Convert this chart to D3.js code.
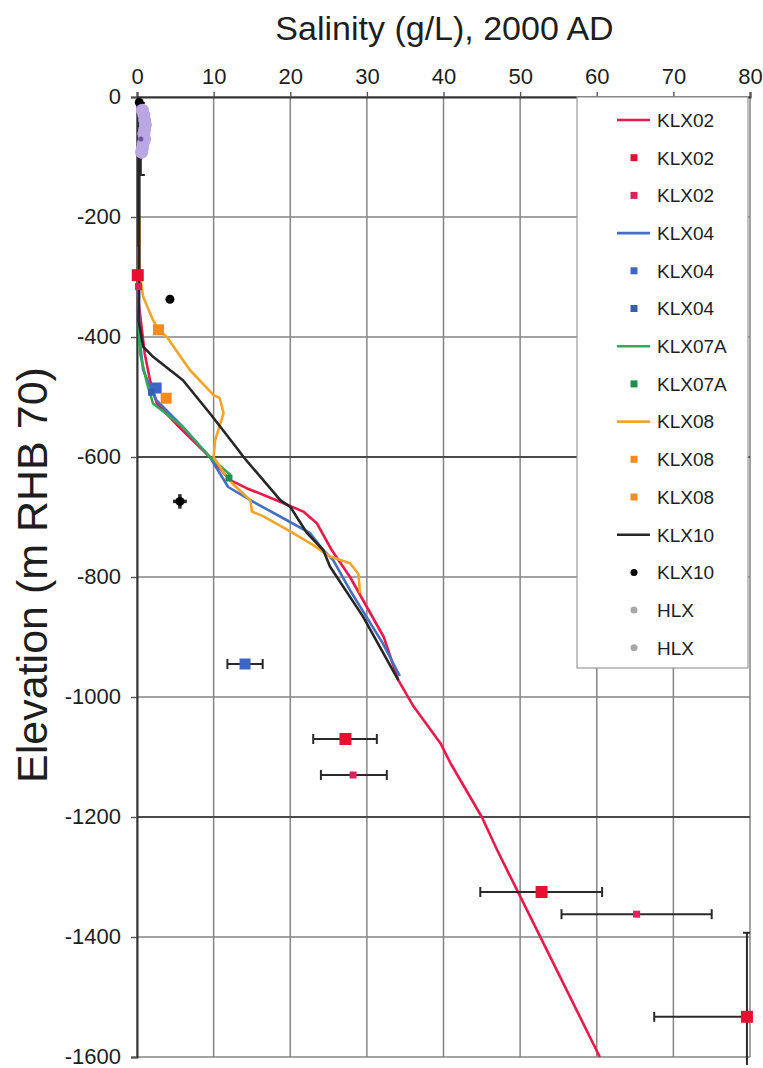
<!DOCTYPE html>
<html>
<head>
<meta charset="utf-8">
<script src="https://cdn.jsdelivr.net/npm/d3@7"></script>
<style>
  body { margin: 0; background: #fff; }
  svg { display: block; font-family: "Liberation Sans", Arial, sans-serif; }
</style>
</head>
<body>
<svg id="chart" width="763" height="1068"></svg>
<script>
// Axis ticks
const xTicks = [0, 10, 20, 30, 40, 50, 60, 70, 80];
const yTicks = [0, -200, -400, -600, -800, -1000, -1200, -1400, -1600];
const strongGrid = [-600, -1200];

// Salinity profiles: [salinity g/L, elevation m]
const klx02Profile = [[0.1,-290],[0.2,-340],[1.0,-427],[1.7,-472],[2.6,-511],[5.5,-550],[9.5,-600],[12.1,-638],[14.3,-652],[18.2,-672],[21.7,-691],[23.5,-711],[25.4,-755],[27.8,-800],[32.2,-900],[34.1,-972],[36.1,-1016],[39.6,-1077],[40.9,-1110],[45.0,-1200],[47.0,-1255],[49.6,-1322],[52.6,-1399],[60.4,-1600]];
const klx04Profile = [[0.2,-250],[0.3,-400],[0.8,-455],[1.9,-488],[2.5,-505],[6.0,-550],[9.5,-600],[11.9,-650],[14.8,-672],[19.5,-705],[22.6,-727],[24.3,-755],[25.6,-772],[27.8,-822],[32.1,-911],[34.3,-965]];
const klx07aProfile = [[0.2,-300],[0.2,-372],[0.4,-427],[1.3,-477],[2.1,-511],[6.0,-550],[9.5,-600],[12.2,-630]];
const klx08Profile = [[0.3,-200],[0.3,-288],[0.8,-333],[2.1,-372],[2.8,-388],[3.9,-400],[6.9,-455],[10.0,-497],[10.8,-502],[11.3,-527],[10.2,-572],[10.0,-600],[11.1,-622],[12.5,-645],[14.8,-672],[15.0,-691],[16.5,-699],[20.0,-724],[23.0,-747],[25.2,-766],[27.8,-777],[28.9,-795],[29.1,-827]];
const klx10Profile = [[0.3,-10],[0.3,-300],[0.2,-372],[0.8,-416],[2.1,-433],[6.0,-472],[9.5,-527],[13.2,-588],[13.9,-600],[18.7,-672],[20.0,-683],[22.2,-727],[24.3,-755],[25.2,-783],[29.5,-866],[34.1,-972]];

// Water samples: [salinity, elevation, salinity low, salinity high, elevation top, elevation bottom]
const klx02SamplesA = [[0.1,-297],[27.2,-1070,23.0,31.3],[52.8,-1325,44.8,60.7],[79.6,-1533,67.5,91.7,-1393,-1673]];
const klx02SamplesB = [[0.2,-316],[28.2,-1130,24.0,32.6],[65.2,-1362,55.4,75.0]];
const klx04SamplesA = [[2.5,-485],[14.1,-945,11.8,16.4]];
const klx04SamplesB = [[1.9,-492]];
const klx07aSamples = [[12.0,-635]];
const klx08SamplesA = [[2.8,-388]];
const klx08SamplesB = [[3.8,-502]];
const klx10Samples = [[0.3,-9],[4.3,-337],[5.6,-674,4.7,6.5,-662,-686]];
const hlxSamplesA = [[0.7,-22],[0.9,-30],[1.0,-38],[1.1,-46],[1.0,-54],[0.9,-62],[1.0,-70],[0.8,-78],[0.7,-86],[0.6,-92]];
const hlxSamplesB = [[0.5,-70,0.5,0.5,-10,-130]];

const series = [
  { name: "KLX02",  kind: "line",   color: "#e8194b", data: klx02Profile },
  { name: "KLX02",  kind: "square", color: "#e81030", size: 12, data: klx02SamplesA },
  { name: "KLX02",  kind: "square", color: "#e0205a", size: 7,  data: klx02SamplesB },
  { name: "KLX04",  kind: "line",   color: "#4470c4", data: klx04Profile },
  { name: "KLX04",  kind: "square", color: "#3a66c8", size: 11, data: klx04SamplesA },
  { name: "KLX04",  kind: "square", color: "#3560b0", size: 7,  data: klx04SamplesB },
  { name: "KLX07A", kind: "line",   color: "#2eaa5a", data: klx07aProfile },
  { name: "KLX07A", kind: "square", color: "#1f8f50", size: 7,  data: klx07aSamples },
  { name: "KLX08",  kind: "line",   color: "#f5a42a", data: klx08Profile },
  { name: "KLX08",  kind: "square", color: "#ff8a1c", size: 11, data: klx08SamplesA },
  { name: "KLX08",  kind: "square", color: "#ff8a1c", size: 11, data: klx08SamplesB },
  { name: "KLX10",  kind: "line",   color: "#262626", data: klx10Profile },
  { name: "KLX10",  kind: "circle", color: "#000000", size: 9,  data: klx10Samples },
  { name: "HLX",    kind: "circle", color: "#b9a6e2", size: 13, data: hlxSamplesA },
  { name: "HLX",    kind: "circle", color: "#6f4fa0", size: 5,  data: hlxSamplesB }
];

const svg = d3.select("#chart");
const plot = { left: 137, right: 750, top: 97, bottom: 1057 };
const x = d3.scaleLinear().domain([0, 80]).range([plot.left, plot.right]);
const y = d3.scaleLinear().domain([0, -1600]).range([plot.top, plot.bottom]);

svg.append("defs").append("clipPath").attr("id", "plotClip")
  .append("rect")
  .attr("x", plot.left).attr("y", plot.top)
  .attr("width", plot.right - plot.left).attr("height", plot.bottom - plot.top + 8);

// Gridlines
svg.append("g").selectAll("line").data(xTicks).join("line")
  .attr("x1", d => x(d)).attr("x2", d => x(d))
  .attr("y1", plot.top).attr("y2", plot.bottom)
  .attr("stroke", "#858585").attr("stroke-width", 1.5);
svg.append("g").selectAll("line").data(yTicks).join("line")
  .attr("x1", plot.left).attr("x2", plot.right)
  .attr("y1", d => y(d)).attr("y2", d => y(d))
  .attr("stroke", d => strongGrid.includes(d) ? "#4a4a4a" : "#858585")
  .attr("stroke-width", d => strongGrid.includes(d) ? 2.2 : 1.5);

// Axes with labels
const xAxis = svg.append("g").attr("transform", `translate(0,${plot.top})`)
  .call(d3.axisTop(x).tickValues(xTicks).tickSize(5).tickPadding(8));
const yAxis = svg.append("g").attr("transform", `translate(${plot.left},0)`)
  .call(d3.axisLeft(y).tickValues(yTicks).tickSize(6).tickPadding(10).tickFormat(d => String(d)));
[xAxis, yAxis].forEach(a => {
  a.select(".domain").attr("stroke", "#333").attr("stroke-width", 2);
  a.selectAll(".tick line").attr("stroke", "#555").attr("stroke-width", 1.4);
  a.selectAll(".tick text").attr("fill", "#1e1e1e")
    .style("font-size", "22px").style("font-family", '"Liberation Sans", Arial, sans-serif');
});
yAxis.selectAll(".tick text").attr("dy", "0.3em");

// Title and axis label
svg.append("text").attr("x", (plot.left + plot.right) / 2 + 1).attr("y", 40)
  .attr("text-anchor", "middle").attr("fill", "#1e1e1e")
  .style("font-size", "34px").text("Salinity (g/L), 2000 AD");
svg.append("text")
  .attr("transform", `translate(47,${(plot.top + plot.bottom) / 2 - 2}) rotate(-90)`)
  .attr("text-anchor", "middle").attr("fill", "#1e1e1e")
  .style("font-size", "43px").text("Elevation (m RHB 70)");

const body = svg.append("g").attr("clip-path", "url(#plotClip)");
const line = d3.line().x(d => x(d[0])).y(d => y(d[1]));

// Profiles
series.filter(s => s.kind === "line").forEach(s => {
  body.append("path").datum(s.data)
    .attr("d", line).attr("fill", "none")
    .attr("stroke", s.color).attr("stroke-width", 2.6)
    .attr("stroke-linejoin", "round");
});

// Error bars (short bars are drawn heavier and without caps)
const errG = body.append("g").attr("stroke", "#2a2a2a");
series.filter(s => s.kind !== "line").forEach(s => {
  s.data.forEach(d => {
    if (d.length >= 4 && d[2] !== d[3]) {
      const span = x(d[3]) - x(d[2]);
      const short = span < 20;
      errG.append("line").attr("x1", x(d[2])).attr("x2", x(d[3])).attr("y1", y(d[1])).attr("y2", y(d[1]))
        .attr("stroke-width", short ? 3.5 : 2);
      if (!short) {
        [d[2], d[3]].forEach(v => errG.append("line").attr("stroke-width", 2)
          .attr("x1", x(v)).attr("x2", x(v)).attr("y1", y(d[1]) - 5).attr("y2", y(d[1]) + 5));
      }
    }
    if (d.length >= 6) {
      const span = y(d[5]) - y(d[4]);
      const short = span < 20;
      errG.append("line").attr("x1", x(d[0])).attr("x2", x(d[0])).attr("y1", y(d[4])).attr("y2", y(d[5]))
        .attr("stroke-width", short ? 3.5 : 2);
      if (!short) {
        [d[4], d[5]].forEach(e => errG.append("line").attr("stroke-width", 2)
          .attr("x1", x(d[0]) - 4).attr("x2", x(d[0]) + 4).attr("y1", y(e)).attr("y2", y(e)));
      }
    }
  });
});

// Sample markers
const markG = svg.append("g");
function drawMarker(g, kind, cx, cy, size, color) {
  if (kind === "square") {
    g.append("rect").attr("x", cx - size / 2).attr("y", cy - size / 2)
      .attr("width", size).attr("height", size).attr("fill", color);
  } else {
    g.append("circle").attr("cx", cx).attr("cy", cy).attr("r", size / 2).attr("fill", color);
  }
}
series.filter(s => s.kind !== "line").forEach(s => {
  s.data.forEach(d => drawMarker(markG, s.kind, x(d[0]), y(d[1]), s.size, s.color));
});

// Legend
const legend = svg.append("g").attr("transform", "translate(577,97)");
legend.append("rect").attr("width", 171).attr("height", 571)
  .attr("fill", "#fff").attr("stroke", "#9a9a9a").attr("stroke-width", 1.2);
series.forEach((s, i) => {
  const ly = 23 + i * 37.7;
  if (s.kind === "line") {
    legend.append("line").attr("x1", 40).attr("x2", 73).attr("y1", ly).attr("y2", ly)
      .attr("stroke", s.color).attr("stroke-width", 2.6);
  } else {
    drawMarker(legend, s.kind, 57, ly, 7, s.name === "HLX" ? "#a8a8a8" : s.color);
  }
  legend.append("text").attr("x", 80).attr("y", ly).attr("dy", "0.36em")
    .attr("fill", "#1e1e1e").style("font-size", "19px").text(s.name);
});
</script>
</body>
</html>
